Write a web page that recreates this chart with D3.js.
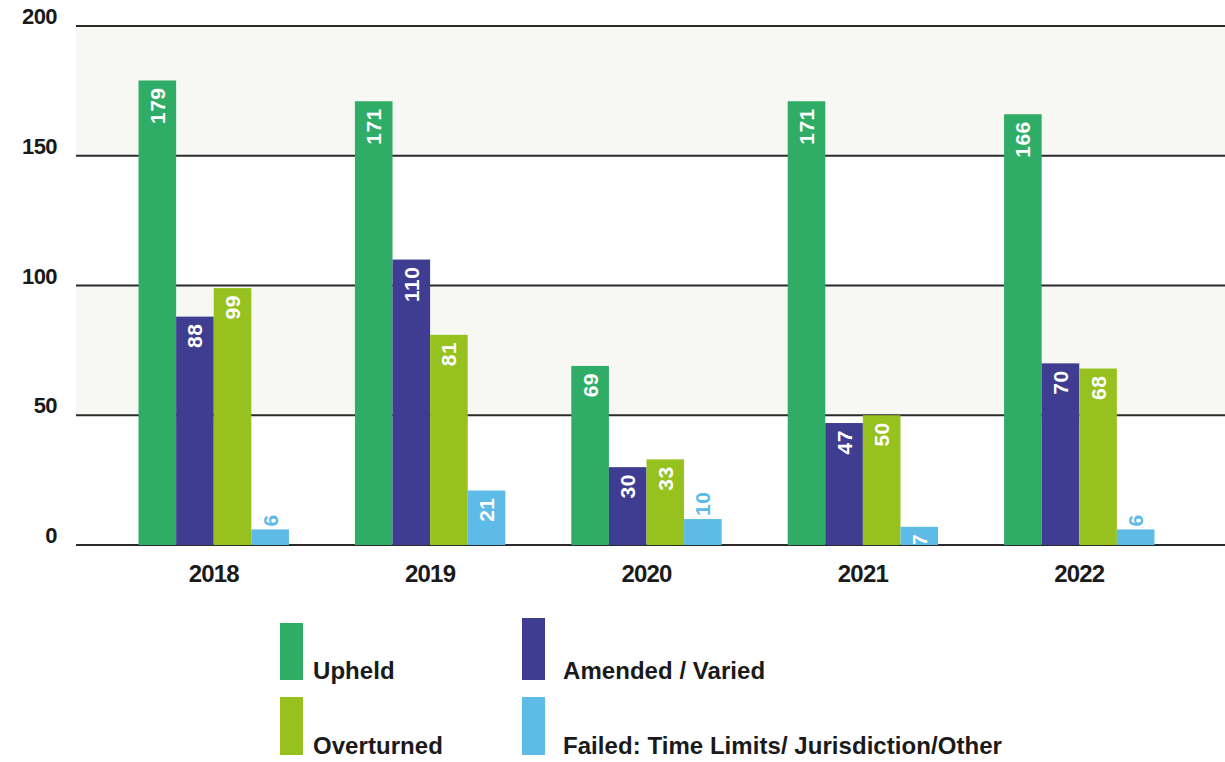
<!DOCTYPE html>
<html>
<head>
<meta charset="utf-8">
<script src="https://cdn.jsdelivr.net/npm/d3@7"></script>
<style>
  html, body { margin: 0; padding: 0; background: #fff; }
  svg { display: block; }
  .tick-label { font-family: "Liberation Sans", Arial, sans-serif; font-weight: bold; fill: #1a1a1a; }
  .val { font-family: "Liberation Sans", Arial, sans-serif; font-weight: bold; }
</style>
</head>
<body>
<script>
const years = ["2018", "2019", "2020", "2021", "2022"];
const seriesNames = ["Upheld", "Amended / Varied", "Overturned", "Failed: Time Limits/ Jurisdiction/Other"];
const upheld     = [179, 171, 69, 171, 166];
const amended    = [88, 110, 30, 47, 70];
const overturned = [99, 81, 33, 50, 68];
const failed     = [6, 21, 10, 7, 6];
const yTicks = [0, 50, 100, 150, 200];
const colors = ["#2fac66", "#3f3d91", "#97c11f", "#5ebae6"];
// whether the small "Failed" labels sit inside the bar
const failedInside = [false, true, false, true, false];

const seriesValues = [upheld, amended, overturned, failed];

const W = 1225, H = 762;
const svg = d3.select("body").append("svg").attr("width", W).attr("height", H);

const plotLeft = 76, plotRight = 1225;
const y = d3.scaleLinear().domain([0, 200]).range([545, 26]);
const x0 = d3.scaleBand().domain(years).range([105, 1188]).paddingInner(0.305).paddingOuter(0.155);
const x1 = d3.scaleBand().domain(d3.range(4)).range([0, x0.bandwidth()]);

// alternating background bands
const bands = [[150, 200], [50, 100]];
svg.selectAll("rect.band").data(bands).join("rect")
  .attr("class", "band")
  .attr("x", plotLeft).attr("width", plotRight - plotLeft)
  .attr("y", d => y(d[1])).attr("height", d => y(d[0]) - y(d[1]))
  .attr("fill", "#f7f8f3");

// gridlines
svg.selectAll("line.grid").data(yTicks).join("line")
  .attr("class", "grid")
  .attr("x1", plotLeft).attr("x2", plotRight)
  .attr("y1", d => y(d)).attr("y2", d => y(d))
  .attr("stroke", "#2b2b2b").attr("stroke-width", 2);

// y labels
svg.selectAll("text.ylab").data(yTicks).join("text")
  .attr("class", "tick-label ylab")
  .attr("x", 57).attr("y", d => y(d) - 2)
  .attr("text-anchor", "end")
  .attr("font-size", 22)
  .attr("letter-spacing", -0.6)
  .text(d => d);

// bars
const data = [];
years.forEach((yr, i) => {
  seriesValues.forEach((arr, s) => data.push({ yr, i, s, v: arr[i], out: s === 3 && !failedInside[i] }));
});

svg.selectAll("rect.bar").data(data).join("rect")
  .attr("class", "bar")
  .attr("x", d => x0(d.yr) + x1(d.s))
  .attr("width", x1.bandwidth())
  .attr("y", d => y(d.v))
  .attr("height", d => y(0) - y(d.v))
  .attr("fill", d => colors[d.s]);

// clip so labels do not run below the baseline
svg.append("clipPath").attr("id", "plotClip")
  .append("rect").attr("x", 0).attr("y", 0).attr("width", W).attr("height", y(0) - 1);

// value labels (rotated)
svg.append("g").attr("clip-path", "url(#plotClip)")
  .selectAll("text.val").data(data).join("text")
  .attr("class", "val")
  .attr("font-size", 21)
  .attr("letter-spacing", 0.5)
  .attr("dy", "0.36em")
  .attr("transform", d => {
    const cx = x0(d.yr) + x1(d.s) + x1.bandwidth() / 2;
    const top = d.out ? y(d.v) - 3 : y(d.v) + 7;
    return `translate(${cx},${top}) rotate(-90)`;
  })
  .attr("text-anchor", d => d.out ? "start" : "end")
  .attr("fill", d => d.out ? colors[3] : "#fff")
  .text(d => d.v);

// x labels
svg.selectAll("text.xlab").data(years).join("text")
  .attr("class", "tick-label xlab")
  .attr("x", d => x0(d) + x0.bandwidth() / 2)
  .attr("y", 582)
  .attr("text-anchor", "middle")
  .attr("font-size", 24)
  .attr("letter-spacing", -0.8)
  .text(d => d);

// legend
const legendPos = [
  { x: 280, top: 623, bottom: 680 },
  { x: 522, top: 618, bottom: 680 },
  { x: 280, top: 697, bottom: 755 },
  { x: 522, top: 697, bottom: 755 }
];
const lg = svg.selectAll("g.leg").data(seriesNames).join("g").attr("class", "leg");
lg.append("rect")
  .attr("x", (d, i) => legendPos[i].x)
  .attr("y", (d, i) => legendPos[i].top)
  .attr("width", 23)
  .attr("height", (d, i) => legendPos[i].bottom - legendPos[i].top)
  .attr("fill", (d, i) => colors[i]);
lg.append("text")
  .attr("class", "tick-label")
  .attr("x", (d, i) => legendPos[i].x + (i % 2 === 0 ? 33 : 41))
  .attr("y", (d, i) => legendPos[i].bottom - 1)
  .attr("font-size", 24)
  .attr("letter-spacing", 0.05)
  .text(d => d);
</script>
</body>
</html>
